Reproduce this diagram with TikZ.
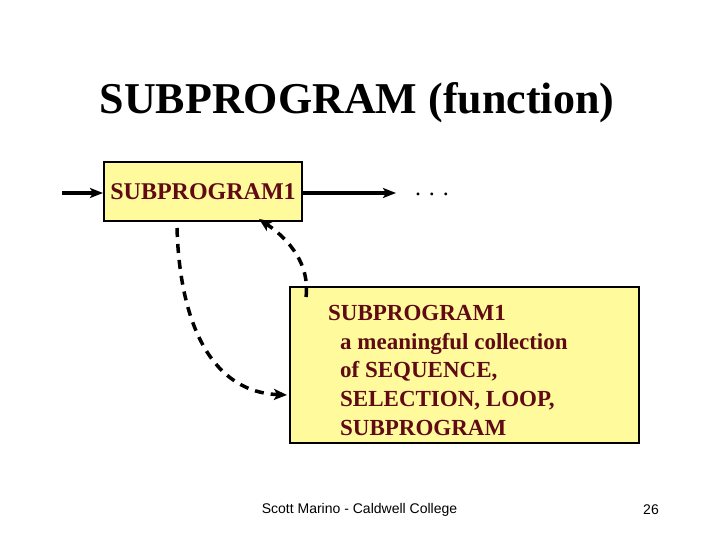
\documentclass[tikz,border=0pt]{standalone}
\usepackage{fontspec}
\setmainfont{Liberation Serif}
\newfontfamily\arialfont{Liberation Sans}
\usetikzlibrary{arrows.meta}
\definecolor{boxfill}{RGB}{255,250,155}
\definecolor{txtred}{RGB}{95,10,20}
\tikzset{
  yellowbox/.style={draw=black, line width=2pt, fill=boxfill, inner sep=0pt},
  flowarrow/.style={line width=3.5pt, -{Stealth[length=13pt,width=10pt,inset=3pt]}},
  dasharrow/.style={line width=3.5pt, dash pattern=on 9pt off 7pt, -{Stealth[length=13pt,width=11pt,inset=3pt]}},
  boxtext/.style={text=txtred, font=\fontsize{23}{28.7}\selectfont\bfseries, align=left, inner sep=0pt, anchor=north west}
}
\begin{document}
\begin{tikzpicture}[x=1pt,y=-1pt]
\useasboundingbox (0,0) rectangle (720,540);
\fill[white] (0,0) rectangle (720,540);
% title
\node (title) at (357,103) {\fontsize{44}{48}\selectfont\bfseries SUBPROGRAM (function)};
% top box
\node[yellowbox, minimum width=198pt, minimum height=59pt] (b1) at (203,191.5) {};
\node[text=txtred, font=\fontsize{24}{28}\selectfont\bfseries, inner sep=0pt] (b1t) at (b1.center) {SUBPROGRAM1};
\coordinate (in) at (62,193);
\coordinate (out) at (396,193);
\draw[flowarrow] (in) -- (b1.west |- in);
\draw[flowarrow] (b1.east |- in) -- (out);
\node[inner sep=0pt, font=\fontsize{24}{28}\selectfont] (dots) at (432,194) {. . .};
% bottom box
\node[yellowbox, minimum width=349pt, minimum height=156pt] (b2) at (464.5,365) {};
\node[boxtext] (b2t) at (328,305) {SUBPROGRAM1\\
\hspace*{12pt}a meaningful collection\\
\hspace*{12pt}of SEQUENCE,\\
\hspace*{12pt}SELECTION, LOOP,\\
\hspace*{12pt}SUBPROGRAM};
% dashed arcs
\coordinate (s1) at (177,228);
\coordinate (e1) at (287,395);
\draw[dasharrow] (s1) .. controls (180,330) and (215,392) .. (e1);
\coordinate (s2) at (306,297);
\coordinate (e2) at (259,219);
\draw[dasharrow] (s2) .. controls (310,265) and (290,240) .. (e2);
% footer
\node[font=\arialfont\fontsize{14}{16}\selectfont] (foot) at (359.5,510) {Scott Marino - Caldwell College};
\node[font=\arialfont\fontsize{14}{16}\selectfont] (page) at (651,510) {26};
\end{tikzpicture}
\end{document}
